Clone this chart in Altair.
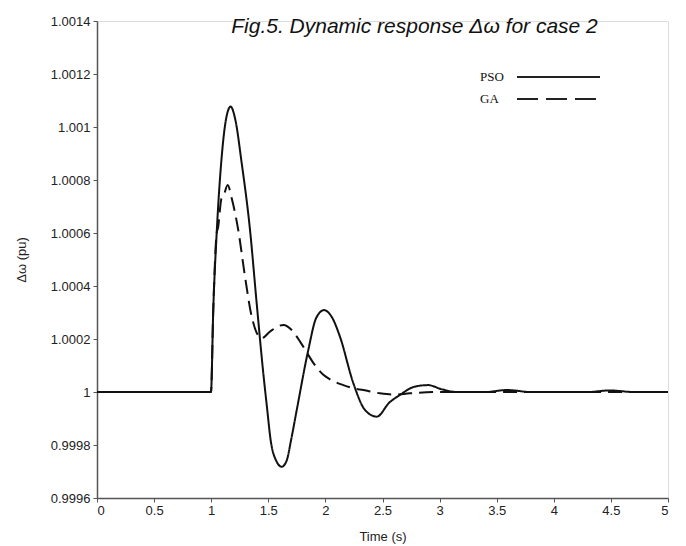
import altair as alt
import pandas as pd

# PSO response
pso_t = [0.0, 0.998, 1.018, 1.048, 1.092, 1.13, 1.17, 1.21, 1.267, 1.340, 1.398, 1.456, 1.491,
         1.52, 1.57, 1.617, 1.66, 1.70, 1.749, 1.850, 1.92, 1.988, 2.06, 2.128, 2.244, 2.347,
         2.449, 2.56, 2.653, 2.78, 2.90, 3.02, 3.15, 3.4, 3.59, 3.8, 4.3, 4.49, 4.7, 5.0]
pso_y = [1.0, 1.0, 1.00031, 1.00060, 1.000888, 1.00103, 1.001077, 1.00103, 1.000864, 1.000611,
         1.000336, 1.0000717, 0.999932, 0.99982, 0.99974, 0.999718, 0.99974, 0.99982, 0.999932,
         1.000158, 1.00028, 1.000309, 1.00028, 1.000208, 1.000034, 0.999932, 0.999907, 0.99996,
         0.999989, 1.00002, 1.000026, 1.00001, 1.0, 1.0, 1.0000075, 1.0, 1.0, 1.000006, 1.0, 1.0]

# GA response
ga_t = [0.0, 0.998, 1.018, 1.048, 1.06, 1.09, 1.106, 1.144, 1.18, 1.237, 1.296, 1.355, 1.442,
        1.52, 1.632, 1.705, 1.778, 1.836, 1.894, 1.982, 2.04, 2.157, 2.245, 2.332, 2.478, 2.6,
        2.74, 3.0, 5.0]
ga_y = [1.0, 1.0, 1.00031, 1.0006, 1.00062, 1.00073, 1.000737, 1.000781, 1.00073, 1.000611,
        1.000435, 1.000284, 1.000203, 1.00023, 1.000253, 1.000234, 1.00019, 1.00015, 1.00011,
        1.000065, 1.000048, 1.000026, 1.000014, 1.0000075, 0.999995, 0.99999, 0.999995, 1.0, 1.0]

series_names = ["PSO", "GA"]
y_ticks = [0.9996, 0.9998, 1.0, 1.0002, 1.0004, 1.0006, 1.0008, 1.001, 1.0012, 1.0014]
x_ticks = [0, 0.5, 1, 1.5, 2, 2.5, 3, 3.5, 4, 4.5, 5]

df = pd.concat([
    pd.DataFrame({"t": pso_t, "y": pso_y, "series": "PSO", "order": range(len(pso_t))}),
    pd.DataFrame({"t": ga_t, "y": ga_y, "series": "GA", "order": range(len(ga_t))}),
])

W, H = 571, 477
font = "Liberation Sans"

lines = alt.Chart(df).mark_line(strokeWidth=2, color="#111", interpolate="monotone").encode(
    x=alt.X("t:Q", scale=alt.Scale(domain=[0, 5], nice=False),
            axis=alt.Axis(values=x_ticks, format="~g", title="Time (s)", grid=False,
                          labelFont=font, labelFontSize=13, labelColor="#222",
                          titleFont=font, titleFontSize=13, titleFontWeight="normal",
                          titleColor="#222", domainColor="#555", domainWidth=1.5,
                          tickColor="#555", tickSize=4, labelPadding=2, titlePadding=13)),
    y=alt.Y("y:Q", scale=alt.Scale(domain=[0.9996, 1.0014], nice=False, zero=False),
            axis=alt.Axis(values=y_ticks, labelExpr="format(datum.value, '.4~f')",
                          title="Δω (pu)", grid=False,
                          labelFont=font, labelFontSize=13, labelColor="#222",
                          titleFont=font, titleFontSize=13, titleFontWeight="normal",
                          titleColor="#222", domainColor="#555", domainWidth=1.5,
                          tickColor="#555", tickSize=4, labelPadding=3, titlePadding=22)),
    strokeDash=alt.StrokeDash("series:N", scale=alt.Scale(domain=series_names,
                                                          range=[[1, 0], [14, 7]]),
                              legend=None),
    detail="series:N",
    order="order:Q",
)

# manual legend (labels on the left of the line samples)
leg_df = pd.DataFrame({"name": series_names})
leg_y = [56, 78]
leg_layers = []
dashes = [[1, 0], [21, 8]]
for i, name in enumerate(series_names):
    sub = alt.Chart(leg_df[leg_df["name"] == name])
    leg_layers.append(sub.mark_rule(strokeWidth=2.2, color="#222", strokeDash=dashes[i]).encode(
        x=alt.value(420), x2=alt.value(503), y=alt.value(leg_y[i])))
    leg_layers.append(sub.mark_text(align="left", baseline="middle", font="Liberation Serif",
                                    fontSize=13, color="#111").encode(
        x=alt.value(383), y=alt.value(leg_y[i]), text="name:N"))

chart = alt.layer(lines, *leg_layers).properties(
    width=W, height=H,
    title=alt.TitleParams("Fig.5. Dynamic response Δω for case 2", font=font, fontSize=21,
                          fontStyle="italic", fontWeight="normal", color="#111",
                          anchor="middle", dx=32, dy=22, baseline="top", offset=0),
    padding={"left": 89, "top": 13, "right": 10, "bottom": 48},
    autosize=alt.AutoSizeParams(type="none"),
).configure_view(stroke=None).configure(background="white")

chart.save("out.html", embed_options={"renderer": "svg", "actions": False})
